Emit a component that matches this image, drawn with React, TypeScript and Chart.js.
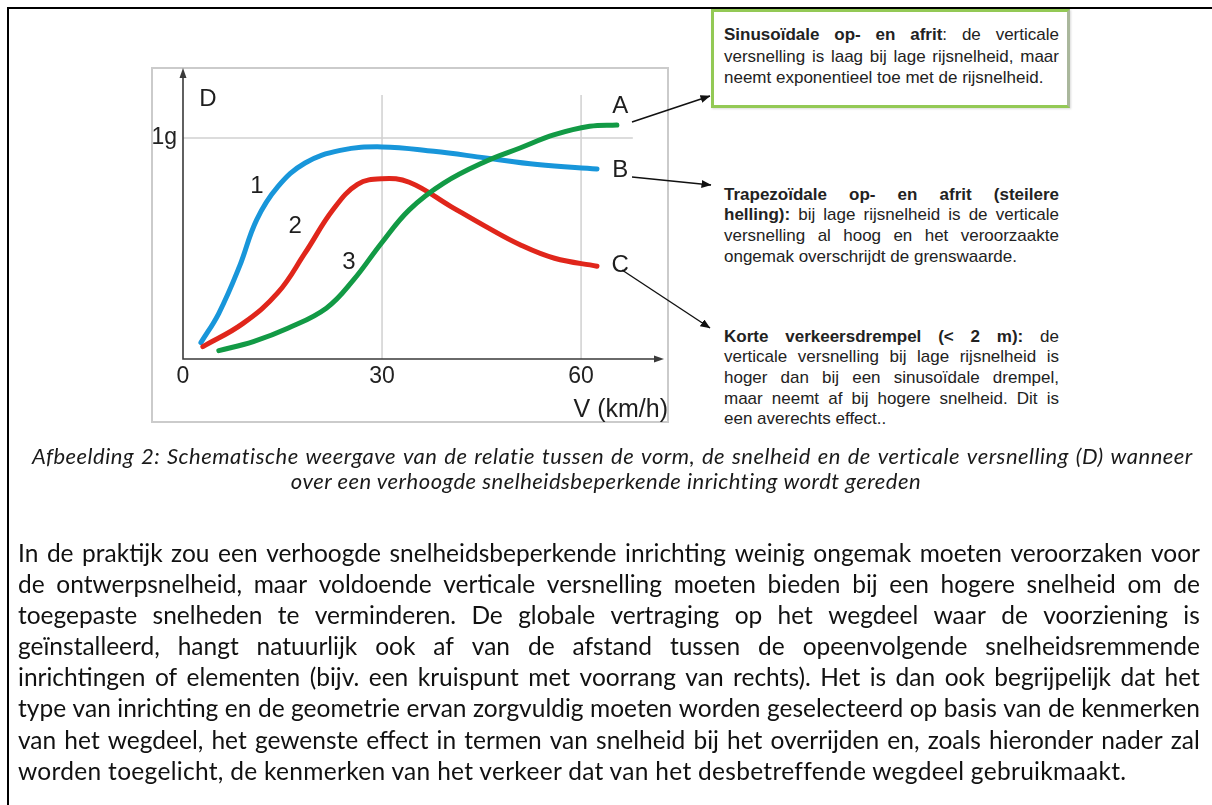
import React, { useEffect, useRef } from 'react';
import { Chart, registerables } from 'chart.js';

Chart.register(...registerables);

// ---------- data ----------
const speedTicks = [0, 30, 60];
const accTicks = [1];
const accTickLabels = ['1g'];
const speedGrid = [30, 60];
const accGrid = [1];

const curve1Speed = [2.7, 5.4, 8.5, 11.1, 14.3, 18.4, 23.7, 30, 37.8, 45.6, 53.4, 62.4];
const curve1Acc = [0.074, 0.207, 0.418, 0.63, 0.78, 0.887, 0.944, 0.96, 0.94, 0.91, 0.88, 0.86];

const curve2Speed = [3.0, 9.0, 14.3, 18.4, 22.6, 26.3, 30, 34.1, 40.4, 45.6, 50.8, 56, 62.4];
const curve2Acc = [0.056, 0.16, 0.3, 0.48, 0.675, 0.79, 0.816, 0.8, 0.69, 0.6, 0.517, 0.456, 0.42];

const curve3Speed = [5.4, 10.6, 15.8, 21.6, 25.7, 29.9, 34.1, 39.3, 45.6, 50.8, 56, 61.3, 65.4];
const curve3Acc = [0.038, 0.079, 0.139, 0.23, 0.358, 0.524, 0.675, 0.796, 0.894, 0.955, 1.015, 1.053, 1.059];

// ---------- annotations (data units) ----------
const curveLabels = [
  { text: 'D', x: 3.77, y: 1.176 },
  { text: '1', x: 11.16, y: 0.783 },
  { text: '2', x: 16.9, y: 0.602 },
  { text: '3', x: 25.0, y: 0.439 },
  { text: 'A', x: 65.9, y: 1.145 },
  { text: 'B', x: 65.9, y: 0.855 },
  { text: 'C', x: 65.9, y: 0.425 },
];
const axisTitle = 'V (km/h)';

const X_MAX = 72.5;
const Y_MAX = 1.317;
const GRID_TOP = 1.195;
const GRID_RIGHT = 67.8;

const SANS = "'Liberation Sans', Arial, sans-serif";
const BODY = "Lato, 'Open Sans', sans-serif";

const decorPlugin = {
  id: 'decor',
  beforeDatasetsDraw(chart: any) {
    const { ctx } = chart;
    const x = chart.scales.x;
    const y = chart.scales.y;
    ctx.save();
    ctx.strokeStyle = '#cbcbcb';
    ctx.lineWidth = 2;
    ctx.strokeRect(1, 1, chart.width - 2, chart.height - 2);

    ctx.strokeStyle = '#d0d0d0';
    ctx.lineWidth = 1.5;
    speedGrid.forEach((v) => {
      const px = x.getPixelForValue(v);
      ctx.beginPath();
      ctx.moveTo(px, y.getPixelForValue(0));
      ctx.lineTo(px, y.getPixelForValue(GRID_TOP));
      ctx.stroke();
    });
    accGrid.forEach((v) => {
      const py = y.getPixelForValue(v);
      ctx.beginPath();
      ctx.moveTo(x.getPixelForValue(0), py);
      ctx.lineTo(x.getPixelForValue(GRID_RIGHT), py);
      ctx.stroke();
    });

    const ox = x.getPixelForValue(0);
    const oy = y.getPixelForValue(0);
    const ex = x.getPixelForValue(X_MAX);
    const ty = y.getPixelForValue(Y_MAX);
    ctx.strokeStyle = '#3a3a3a';
    ctx.fillStyle = '#3a3a3a';
    ctx.lineWidth = 1.6;
    ctx.beginPath();
    ctx.moveTo(ox, ty + 6);
    ctx.lineTo(ox, oy);
    ctx.lineTo(ex - 6, oy);
    ctx.stroke();
    ctx.beginPath();
    ctx.moveTo(ox, ty);
    ctx.lineTo(ox - 3.5, ty + 10);
    ctx.lineTo(ox + 3.5, ty + 10);
    ctx.closePath();
    ctx.fill();
    ctx.beginPath();
    ctx.moveTo(ex, oy);
    ctx.lineTo(ex - 10, oy - 3.5);
    ctx.lineTo(ex - 10, oy + 3.5);
    ctx.closePath();
    ctx.fill();
    ctx.restore();
  },
  afterDatasetsDraw(chart: any) {
    const { ctx } = chart;
    const x = chart.scales.x;
    const y = chart.scales.y;
    ctx.save();
    ctx.fillStyle = '#1e1e1e';
    ctx.font = `24px ${SANS}`;
    ctx.textAlign = 'center';
    ctx.textBaseline = 'middle';
    curveLabels.forEach((l) => {
      ctx.fillText(l.text, x.getPixelForValue(l.x), y.getPixelForValue(l.y));
    });
    ctx.font = `25px ${SANS}`;
    ctx.textAlign = 'right';
    ctx.fillText(axisTitle, chart.width - 1, y.getPixelForValue(-0.231));
    ctx.restore();
  },
};

function AccelChart() {
  const ref = useRef<HTMLCanvasElement>(null);
  useEffect(() => {
    const common = {
      borderWidth: 5,
      pointRadius: 0,
      borderCapStyle: 'round',
      borderJoinStyle: 'round',
      tension: 0.4,
      fill: false,
    };
    const chart = new Chart(ref.current as HTMLCanvasElement, {
      type: 'line',
      data: {
        datasets: [
          { ...common, label: '3', borderColor: '#129a45', data: curve3Speed.map((s, i) => ({ x: s, y: curve3Acc[i] })) },
          { ...common, label: '2', borderColor: '#e0261b', data: curve2Speed.map((s, i) => ({ x: s, y: curve2Acc[i] })) },
          { ...common, label: '1', borderColor: '#1896da', data: curve1Speed.map((s, i) => ({ x: s, y: curve1Acc[i] })) },
        ] as any,
      },
      options: {
        responsive: false,
        animation: false,
        devicePixelRatio: 1,
        layout: { padding: { top: 1, right: 5, left: 0, bottom: 0 } },
        plugins: { legend: { display: false }, tooltip: { enabled: false } },
        scales: {
          x: {
            type: 'linear',
            min: 0,
            max: X_MAX,
            grid: { display: false, drawTicks: false },
            border: { display: false },
            afterBuildTicks: (s: any) => {
              s.ticks = speedTicks.map((v) => ({ value: v }));
            },
            afterFit: (s: any) => {
              s.height = 64;
              s.paddingLeft = 0;
              s.paddingRight = 0;
            },
            ticks: {
              font: { family: SANS, size: 23 },
              color: '#222',
              padding: 4,
              maxRotation: 0,
              autoSkip: false,
              callback: (v: any) => String(v),
            },
          },
          y: {
            type: 'linear',
            min: 0,
            max: Y_MAX,
            grid: { display: false, drawTicks: false },
            border: { display: false },
            afterBuildTicks: (s: any) => {
              s.ticks = accTicks.map((v) => ({ value: v }));
            },
            afterFit: (s: any) => {
              s.width = 32;
              s.paddingTop = 0;
              s.paddingBottom = 0;
            },
            ticks: {
              font: { family: SANS, size: 23 },
              color: '#222',
              padding: 6,
              autoSkip: false,
              callback: (_v: any, i: number) => accTickLabels[i],
            },
          },
        },
      } as any,
      plugins: [decorPlugin],
    });
    return () => chart.destroy();
  }, []);
  return (
    <canvas
      ref={ref}
      width={518}
      height={356}
      style={{ position: 'absolute', left: 151, top: 67, width: 518, height: 356 }}
    />
  );
}

// ---------- text ----------
type Line = { t: string; b?: number; j?: boolean; ls?: number };

function renderSeg(text: string, start: number, bold: number, key: string) {
  const end = start + text.length;
  if (bold <= start) return <span key={key}>{text}</span>;
  if (bold >= end) return <span key={key} style={{ fontWeight: 'bold' }}>{text}</span>;
  const cut = bold - start;
  return (
    <span key={key}>
      <span style={{ fontWeight: 'bold' }}>{text.slice(0, cut)}</span>
      {text.slice(cut)}
    </span>
  );
}

function TextBlock(props: {
  left: number;
  top: number;
  width: number;
  lh: number;
  size: number;
  family: string;
  italic?: boolean;
  color?: string;
  align?: 'left' | 'center';
  ls?: number;
  lines: Line[];
}) {
  const { left, top, width, lh, size, family, italic, color, align, ls, lines } = props;
  return (
    <div
      style={{
        position: 'absolute',
        left,
        top,
        width,
        fontFamily: family,
        fontSize: size,
        fontStyle: italic ? 'italic' : 'normal',
        letterSpacing: ls || 0,
        color: color || '#1a1a1a',
      }}
    >
      {lines.map((ln, i) => {
        const b = ln.b || 0;
        if (ln.j) {
          const words = ln.t.split(' ');
          let idx = 0;
          const parts = words.map((w, k) => {
            const el = renderSeg(w, idx, b, `${i}-${k}`);
            idx += w.length + 1;
            return el;
          });
          return (
            <div
              key={i}
              style={{ display: 'flex', justifyContent: 'space-between', height: lh, lineHeight: `${lh}px`, whiteSpace: 'pre' }}
            >
              {parts}
            </div>
          );
        }
        return (
          <div
            key={i}
            style={{
              height: lh,
              lineHeight: `${lh}px`,
              whiteSpace: 'pre',
              textAlign: align || 'left',
              letterSpacing: ln.ls !== undefined ? ln.ls : undefined,
            }}
          >
            {renderSeg(ln.t, 0, b, `${i}`)}
          </div>
        );
      })}
    </div>
  );
}

const box1Lines: Line[] = [
  { t: 'Sinusoïdale op- en afrit: de verticale', b: 24, j: true },
  { t: 'versnelling is laag bij lage rijsnelheid, maar', j: true },
  { t: 'neemt exponentieel toe met de rijsnelheid.' },
];
const box2Lines: Line[] = [
  { t: 'Trapezoïdale op- en afrit (steilere', b: 99, j: true },
  { t: 'helling): bij lage rijsnelheid is de verticale', b: 9, j: true },
  { t: 'versnelling al hoog en het veroorzaakte', j: true },
  { t: 'ongemak overschrijdt de grenswaarde.' },
];
const box3Lines: Line[] = [
  { t: 'Korte verkeersdrempel (< 2 m): de', b: 30, j: true },
  { t: 'verticale versnelling bij lage rijsnelheid is', j: true },
  { t: 'hoger dan bij een sinusoïdale drempel,', j: true },
  { t: 'maar neemt af bij hogere snelheid. Dit is', j: true },
  { t: 'een averechts effect..' },
];
const captionLine1: Line[] = [
  {
    t: 'Afbeelding 2: Schematische weergave van de relatie tussen de vorm, de snelheid en de verticale versnelling (D) wanneer',
    j: true,
  },
];
const captionLine2: Line[] = [{ t: 'over een verhoogde snelheidsbeperkende inrichting wordt gereden' }];
const paragraphLines: Line[] = [
  { t: 'In de praktijk zou een verhoogde snelheidsbeperkende inrichting weinig ongemak moeten veroorzaken voor', j: true },
  { t: 'de ontwerpsnelheid, maar voldoende verticale versnelling moeten bieden bij een hogere snelheid om de', j: true },
  { t: 'toegepaste snelheden te verminderen. De globale vertraging op het wegdeel waar de voorziening is', j: true },
  { t: 'geïnstalleerd, hangt natuurlijk ook af van de afstand tussen de opeenvolgende snelheidsremmende', j: true },
  { t: 'inrichtingen of elementen (bijv. een kruispunt met voorrang van rechts). Het is dan ook begrijpelijk dat het', j: true },
  { t: 'type van inrichting en de geometrie ervan zorgvuldig moeten worden geselecteerd op basis van de kenmerken', j: true },
  { t: 'van het wegdeel, het gewenste effect in termen van snelheid bij het overrijden en, zoals hieronder nader zal', j: true },
  { t: 'worden toegelicht, de kenmerken van het verkeer dat van het desbetreffende wegdeel gebruikmaakt.', ls: 0.3 },
];

const connectors = [
  { x1: 632, y1: 122, x2: 710, y2: 96 },
  { x1: 632, y1: 177, x2: 711, y2: 185 },
  { x1: 622, y1: 270, x2: 710, y2: 328 },
];

export default function App() {
  return (
    <div style={{ position: 'absolute', left: 0, top: 0, width: 1212, height: 805, background: '#fff', overflow: 'hidden' }}>
      <div style={{ position: 'absolute', left: 7, top: 7, width: 1205, height: 2, background: '#000' }} />
      <div style={{ position: 'absolute', left: 7, top: 7, width: 2, height: 798, background: '#000' }} />

      <AccelChart />

      <div
        style={{
          position: 'absolute',
          left: 711,
          top: 9,
          width: 359,
          height: 99,
          boxSizing: 'border-box',
          border: '3px solid #93c955',
          borderRightColor: '#aab79c',
          boxShadow: '1px 1px 2px rgba(0,0,0,0.15)',
          background: '#fff',
        }}
      />
      <TextBlock left={724} top={24.25} width={335} lh={21.5} size={17} family={SANS} color="#222" lines={box1Lines} />
      <TextBlock left={724} top={184.7} width={335} lh={20.67} size={17} family={SANS} color="#222" lines={box2Lines} />
      <TextBlock left={724} top={326.7} width={335} lh={20.67} size={17} family={SANS} color="#222" lines={box3Lines} />

      <svg width={1212} height={805} style={{ position: 'absolute', left: 0, top: 0, pointerEvents: 'none' }}>
        <defs>
          <marker id="ah" markerWidth="10" markerHeight="8" refX="9.5" refY="4" orient="auto" markerUnits="userSpaceOnUse">
            <path d="M0,0 L10,4 L0,8 z" fill="#111" />
          </marker>
        </defs>
        {connectors.map((c, i) => (
          <line key={i} x1={c.x1} y1={c.y1} x2={c.x2} y2={c.y2} stroke="#111" strokeWidth={1.4} markerEnd="url(#ah)" />
        ))}
      </svg>

      <TextBlock left={32} top={443} width={1161} lh={26} size={22} ls={0.5} family={BODY} italic color="#1a1a1a" lines={captionLine1} />
      <TextBlock left={0} top={468} width={1212} lh={26} size={22} ls={0.5} family={BODY} italic color="#1a1a1a" align="center" lines={captionLine2} />

      <TextBlock left={18} top={537} width={1182} lh={31.1} size={24.5} family={BODY} color="#111" lines={paragraphLines} />
    </div>
  );
}
